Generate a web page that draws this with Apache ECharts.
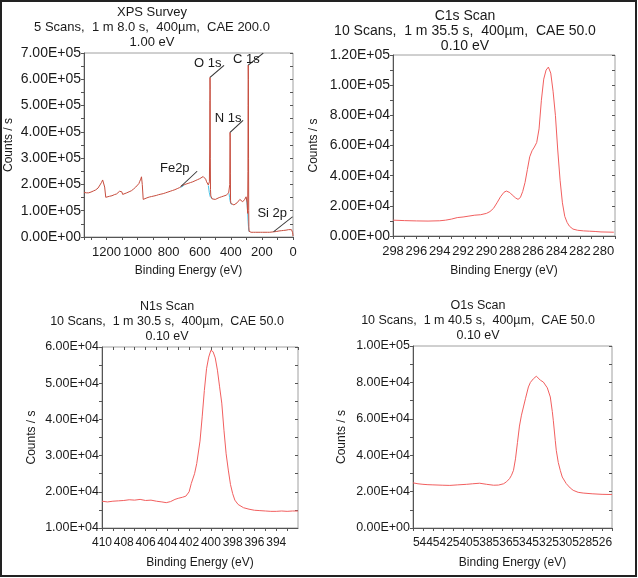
<!DOCTYPE html>
<html><head><meta charset="utf-8">
<script src="https://cdn.jsdelivr.net/npm/echarts@6/dist/echarts.min.js"></script>
<style>html,body{margin:0;padding:0;background:#fff}#c{width:638px;height:578px}</style>
</head><body><div id="c"></div>
<script>
// ---------- DATA ----------
// Survey (binding energy eV, counts in thousands)
const surveyEnergy = [1345,1330,1315,1300,1285,1270,1255,1242,1232,1225,1218,1212,1205,1195,1180,1165,1150,1135,1124,1116,1109,1102,1096,1085,1070,1055,1040,1025,1012,1000,992,986,980,975,970,964,955,940,925,910,895,880,865,850,835,820,805,790,775,760,745,730,720,714,710,706,700,690,675,660,645,630,615,600,588,578,570,566,562,556,550,545,541,538,536,535,534,533,532,531,529,526,520,510,500,490,475,460,445,430,420,414,410,407,405,404,403,402,400,396,390,380,370,360,350,342,336,330,324,318,312,306,302,298,295,292,290,289,288,287,286,285,284,283,281,278,270,255,240,225,210,195,180,165,150,135,120,105,90,75,60,45,35,28,22,16,10,6,3,1,0];
const surveyKCounts = [170,168,168,171,175,179,186,198,208,217,212,190,151,152,155,157,161,164,168,174,181,172,162,165,168,172,176,183,190,197,203,212,220,229,200,143,146,149,152,154,156,158,161,163,165,168,171,174,177,180,184,188,192,196,192,197,199,201,204,207,210,214,218,222,226,230,233,232,220,210,203,198,200,210,331,520,607,560,300,180,156,152,145,141,143,146,150,153,156,159,163,168,172,200,398,380,240,140,128,124,122,122,126,130,136,143,140,137,134,138,142,148,153,150,130,90,250,500,654,600,300,100,40,22,19,18,18,18,18,18,18,18,18,18,18,19,20,21,23,24,25,26,27,28,30,29,28,24,18,10,4,2];
// Survey background segments (null = gap)
const bgEnergy = [726,716,708,700,690,545,539,533,525,518,505,412,408,404,400,394,385,302,298,295,292,289,286,283,280];
const bgKCounts = [189,189,193,198,null,196,170,154,148,144,null,166,150,135,127,123,null,150,140,120,95,60,35,22,19];
// Survey peak labels
const peakNames = ['O 1s','C 1s','N 1s','Fe2p','Si 2p'];
const peakEnergy = [534,288,405,720,125];
const peakKCounts = [607,654,398,193,20];

const c1sEnergy = [298.0,297.0,296.0,295.0,294.0,293.5,293.0,292.5,292.0,291.5,291.0,290.5,290.0,289.7,289.4,289.1,288.8,288.5,288.3,288.0,287.8,287.5,287.3,287.1,286.9,286.7,286.5,286.3,286.1,285.9,285.7,285.5,285.3,285.1,284.9,284.7,284.5,284.3,284.1,283.9,283.7,283.5,283.3,283.1,282.9,282.6,282.2,281.7,281.2,280.7,280.2,279.6,279.1];
const c1sCounts = [10500,10200,10000,9900,10100,10500,11200,12200,12600,13200,13800,14100,15000,16200,18300,22000,26000,29000,29800,28800,27200,25200,24300,25500,29500,35500,44000,52500,56500,59000,62000,71000,90000,104000,110000,112000,108000,96000,80000,57000,37000,22000,13000,9000,6500,4600,3800,3400,3200,3000,2700,2600,2500];

const n1sEnergy = [410.0,409.5,409.0,408.5,408.0,407.5,407.0,406.5,406.0,405.5,405.0,404.5,404.1,403.7,403.3,403.0,402.6,402.3,402.0,401.8,401.5,401.3,401.0,400.8,400.6,400.4,400.2,400.0,399.8,399.6,399.4,399.2,399.0,398.8,398.6,398.4,398.2,398.0,397.8,397.5,397.0,396.5,396.0,395.5,395.0,394.5,394.0,393.5,393.0,392.5,392.0];
const n1sCounts = [17400,17200,17400,17500,17600,17800,17700,17900,17600,17700,17400,17200,17000,17300,17900,18200,18500,18800,20000,22300,25000,27800,34000,40700,48000,54000,57200,59100,58700,57000,53600,49000,44500,37000,30500,26000,22000,19500,17700,16500,15600,15200,14900,14800,14700,14600,14600,14700,14600,14700,14700];

const o1sEnergy = [545.0,544.5,544.0,543.5,543.0,542.0,541.3,540.5,539.6,539.0,538.3,537.6,536.9,536.4,535.9,535.6,535.3,535.1,534.9,534.7,534.5,534.3,534.1,533.9,533.7,533.4,533.2,532.9,532.6,532.4,532.2,531.9,531.7,531.5,531.2,531.0,530.9,530.7,530.6,530.4,530.2,530.0,529.6,529.2,528.9,528.4,527.9,527.0,526.0,525.0];
const o1sCounts = [24800,24300,24000,23800,23700,23500,23400,23700,24000,24300,24600,24000,23500,23600,24300,25400,27100,29000,31700,38000,47000,56000,62000,66500,71000,77500,80000,82000,83400,82500,81200,80200,79300,77000,72000,64000,59200,48000,42700,36000,31700,28000,24400,22000,20700,19600,19200,18800,18500,18400];

const titles = [
  'XPS Survey\n5 Scans,  1 m 8.0 s,  400µm,  CAE 200.0\n1.00 eV',
  'C1s Scan\n10 Scans,  1 m 35.5 s,  400µm,  CAE 50.0\n0.10 eV',
  'N1s Scan\n10 Scans,  1 m 30.5 s,  400µm,  CAE 50.0\n0.10 eV',
  'O1s Scan\n10 Scans,  1 m 40.5 s,  400µm,  CAE 50.0\n0.10 eV'
];
const xAxisTitle = 'Binding Energy (eV)';
const yAxisTitle = 'Counts / s';

// ---------- LAYOUT / STYLE ----------
const panels = [
  {grid:{left:84,top:53,width:209,height:184}, x:{min:0,max:1345,interval:100,step:200}, y:{min:0,max:700000,interval:100000}, yGap:69, xGap:28, title:{left:147,top:0}, fs:{t:13,y:14,x:13}},
  {grid:{left:393,top:55,width:222,height:181}, x:{min:279,max:298,interval:1,step:2}, y:{min:0,max:120000,interval:20000}, yGap:73, xGap:29, title:{left:460,top:4}, fs:{t:14,y:14,x:13}},
  {grid:{left:102,top:347,width:196,height:181}, x:{min:392,max:410,interval:1,step:2}, y:{min:10000,max:60000,interval:10000}, yGap:64, xGap:29, title:{left:162,top:294}, fs:{t:12.5,y:12.5,x:12}},
  {grid:{left:413,top:346,width:199,height:182}, x:{min:525,max:545,interval:1,step:2}, y:{min:0,max:100000,interval:20000}, yGap:65, xGap:29, title:{left:473,top:293}, fs:{t:12.5,y:12.5,x:12}}
];
const FONT = 'Liberation Sans, Arial, sans-serif';
const TXT = '#1a1a1a';
const AXIS = '#555';
const sci = v => {
  const s = Number(v).toExponential(2);
  const parts = s.split('e');
  const sign = parts[1][0] === '-' ? '-' : '+';
  const d = parts[1].replace(/[+-]/, '').padStart(2, '0');
  return parts[0] + 'E' + sign + d;
};

const grids = [], xAxes = [], yAxes = [], titleComps = [];
panels.forEach((p, i) => {
  grids.push(Object.assign({show:true, borderColor:'#a0a0a0', borderWidth:1, backgroundColor:'transparent', containLabel:false, outerBoundsMode:'none'}, p.grid));
  titleComps.push({text: titles[i], left: p.title.left, top: p.title.top, textAlign:'center',
    textStyle:{fontFamily:FONT, fontSize:p.fs.t, fontWeight:'normal', color:TXT, lineHeight:15}});
  const step = p.x.step;
  const xBase = {type:'value', gridIndex:i, inverse:true, min:p.x.min, max:p.x.max, interval:p.x.interval, splitLine:{show:false}};
  xAxes.push(Object.assign({}, xBase, {
    name:xAxisTitle, nameLocation:'middle', nameGap:p.xGap,
    nameTextStyle:{fontFamily:FONT, fontSize:12, color:TXT},
    axisLine:{show:true, onZero:false, lineStyle:{color:AXIS, width:1}},
    axisTick:{show:true, inside:false, length:3, lineStyle:{color:AXIS}},
    axisLabel:{show:true, margin:9, fontFamily:FONT, fontSize:p.fs.x, color:TXT, showMinLabel: i===2 ? false : null,
      formatter: v => (Math.round(v) % step === 0 && Math.abs(v - Math.round(v)) < 1e-6) ? String(Math.round(v)) : ''}
  }));
  xAxes.push(Object.assign({}, xBase, {
    axisLine:{show:false}, axisTick:{show:true, inside:true, length:3, lineStyle:{color:AXIS}}, axisLabel:{show:false}
  }));
  const yBase = {type:'value', gridIndex:i, min:p.y.min, max:p.y.max, interval:p.y.interval, splitLine:{show:false}};
  yAxes.push(Object.assign({}, yBase, {
    name:yAxisTitle, nameLocation:'middle', nameGap:p.yGap, nameRotate:90,
    nameTextStyle:{fontFamily:FONT, fontSize:12, color:TXT},
    axisLine:{show:true, onZero:false, lineStyle:{color:AXIS, width:1}},
    axisTick:{show:true, inside:false, length:3, lineStyle:{color:AXIS}},
    minorTick:{show:true, splitNumber:2, length:3, lineStyle:{color:AXIS}},
    axisLabel:{show:true, margin:3, fontFamily:FONT, fontSize:p.fs.y, color:TXT, formatter: sci}
  }));
  yAxes.push(Object.assign({}, yBase, {
    axisLine:{show:false}, axisTick:{show:true, inside:true, length:3, lineStyle:{color:AXIS}},
    minorTick:{show:true, splitNumber:2, length:3, lineStyle:{color:AXIS}}, axisLabel:{show:false}
  }));
});

const leader = { // leader-line box [w,h] and label offset from line end [dx,dy]
  'O 1s':[14,12,-2,-2], 'C 1s':[15,12,-3,7], 'N 1s':[13,12,-1,-1], 'Fe2p':[16,15,-7,-2], 'Si 2p':[19,15,-5,-3]
};

const zip = (xs, ys, k) => xs.map((x, i) => [x, ys[i] == null ? null : ys[i] * (k || 1)]);
const SCAN = '#f25f5f';
const series = [
  {type:'line', xAxisIndex:0, yAxisIndex:0, data: zip(bgEnergy, bgKCounts, 1000), symbol:'none', z:2,
   lineStyle:{color:'#4cc3e6', width:1}, connectNulls:false, silent:true},
  {type:'line', xAxisIndex:0, yAxisIndex:0, data: zip(surveyEnergy, surveyKCounts, 1000), symbol:'none', z:3,
   lineStyle:{color:'#c64d3e', width:1}, silent:true,
   markPoint:{
     symbol:'path://M0 12 L14 0', silent:true, animation:false,
     itemStyle:{color:'rgba(0,0,0,0)', borderColor:'#333', borderWidth:1},
     data: peakNames.map((n, i) => {
       const L = leader[n];
       return {name:n, coord:[peakEnergy[i], peakKCounts[i]*1000], symbolSize:[L[0], L[1]], symbolOffset:[L[0]/2, -L[1]/2],
         label:{show:true, formatter:'{b}', position:[L[0] + L[2], L[3]], align:'right', verticalAlign:'middle',
           fontFamily:FONT, fontSize:13, color:TXT}};
     })
   }},
  {type:'line', xAxisIndex:2, yAxisIndex:2, data: zip(c1sEnergy, c1sCounts), symbol:'none', z:3, lineStyle:{color:SCAN, width:1}, silent:true},
  {type:'line', xAxisIndex:4, yAxisIndex:4, data: zip(n1sEnergy, n1sCounts), symbol:'none', z:3, lineStyle:{color:SCAN, width:1}, silent:true},
  {type:'line', xAxisIndex:6, yAxisIndex:6, data: zip(o1sEnergy, o1sCounts), symbol:'none', z:3, lineStyle:{color:SCAN, width:1}, silent:true}
];

const chart = echarts.init(document.getElementById('c'), null, {renderer:'canvas'});
chart.setOption({
  animation:false, backgroundColor:'#ffffff',
  title: titleComps, grid: grids, xAxis: xAxes, yAxis: yAxes, series: series,
  graphic:[{type:'rect', silent:true, z:100, shape:{x:1, y:1, width:635, height:575}, style:{fill:'none', stroke:'#222', lineWidth:2}}]
});
</script></body></html>
